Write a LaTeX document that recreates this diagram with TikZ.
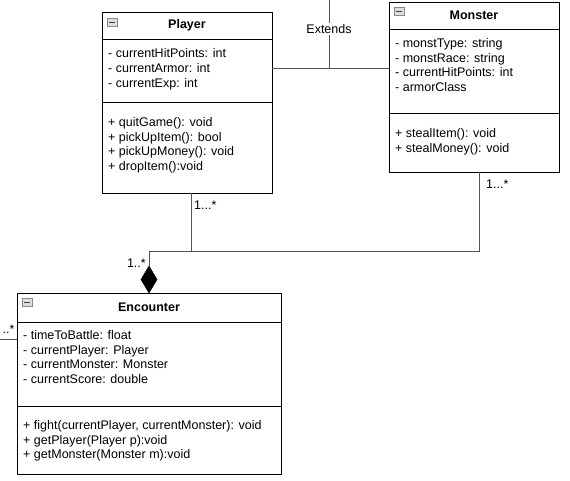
\documentclass[tikz,border=0pt]{standalone}
\usepackage{fontspec}
\setmainfont{Liberation Sans}
\usetikzlibrary{shapes.geometric}
\definecolor{conncol}{HTML}{555555}
\definecolor{icoline}{HTML}{888888}
\definecolor{icofill}{HTML}{DDDDDD}
\begin{document}
\begin{tikzpicture}[x=1pt,y=-1pt,
  box/.style={draw=black, line width=1pt, fill=white, anchor=north west, inner sep=0pt, outer sep=0pt},
  title/.style={font=\fontsize{12.5}{15}\selectfont\bfseries, inner sep=0pt},
  txt/.style={font=\fontsize{12.5}{15}\selectfont, inner sep=0pt, anchor=base west},
  lbl/.style={font=\fontsize{12.5}{15}\selectfont, inner sep=0pt},
  icon/.style={draw=icoline, fill=icofill, line width=0.8pt, minimum width=10, minimum height=8, inner sep=0pt, anchor=north west,
    path picture={\draw[black!75, line width=1pt] ([xshift=2pt]path picture bounding box.west) -- ([xshift=-2pt]path picture bounding box.east);}},
  conn/.style={draw=conncol, line width=1pt}]
\useasboundingbox (0,0) rectangle (570,480);
\fill[white] (0,0) rectangle (570,480);

% ---------- Player ----------
\node[box, minimum width=170, minimum height=27] (pH) at (102,12) {};
\node[box, minimum width=170, minimum height=63] (pA) at (pH.south west) {};
\node[box, minimum width=170, minimum height=91] (pM) at (pA.south west) {};
\node[title] (pT) at (pH.center) {Player};
\node[icon] (pI) at ([shift={(5,6)}]pH.north west) {};
\foreach \t [count=\i from 0] in {- currentHitPoints: int, - currentArmor: int, - currentExp: int}
  \node[txt] (pa\i) at (108,57.5+\i*15) {\t};
\foreach \t [count=\i from 0] in {+ quitGame(): void, + pickUpItem(): bool, + pickUpMoney(): void, + dropItem():void}
  \node[txt] (pm\i) at (108,126.5+\i*14.7) {\t};

% ---------- Monster ----------
\node[box, minimum width=170, minimum height=27] (mH) at (389,2) {};
\node[box, minimum width=170, minimum height=84] (mA) at (mH.south west) {};
\node[box, minimum width=170, minimum height=59] (mM) at (mA.south west) {};
\node[title] (mT) at (mH.center) {Monster};
\node[icon] (mI) at ([shift={(5,5)}]mH.north west) {};
\foreach \t [count=\i from 0] in {- monstType: string, - monstRace: string, - currentHitPoints: int, - armorClass}
  \node[txt] (ma\i) at (395,47.5+\i*14.7) {\t};
\foreach \t [count=\i from 0] in {+ stealItem(): void, + stealMoney(): void}
  \node[txt] (mm\i) at (395,137.5+\i*14.7) {\t};

% ---------- Encounter ----------
\node[box, minimum width=264, minimum height=29] (eH) at (17,293) {};
\node[box, minimum width=264, minimum height=84] (eA) at (eH.south west) {};
\node[box, minimum width=264, minimum height=68] (eM) at (eA.south west) {};
\node[title] (eT) at (eH.center) {Encounter};
\node[icon] (eI) at ([shift={(5,5)}]eH.north west) {};
\foreach \t [count=\i from 0] in {- timeToBattle: float, - currentPlayer: Player, - currentMonster: Monster, - currentScore: double}
  \node[txt] (ea\i) at (23,339.5+\i*14.7) {\t};
\foreach \t [count=\i from 0] in {{+ fight(currentPlayer, currentMonster): void}, + getPlayer(Player p):void, + getMonster(Monster m):void}
  \node[txt] (em\i) at (23,429.5+\i*14.7) {\t};

% ---------- Extends ----------
\coordinate (extTop) at (329,0);
\coordinate (extJ) at (329,68);
\draw[conn] (extTop) -- (extJ);
\draw[conn] (extJ -| pA.east) -- (extJ -| mA.west);
\node[lbl, fill=white, inner sep=1pt] (extL) at (329,29) {Extends};

% ---------- Aggregation ----------
\node[diamond, fill=black, draw=black, line width=0.5pt, minimum width=16, minimum height=27, inner sep=0pt, outer sep=0pt] (dia) at (149,279.5) {};
\coordinate (pX) at (191,251);
\coordinate (mX) at (479,251);
\draw[conn] (pX |- pM.south) -- (pX);
\draw[conn] (mX |- mM.south) -- (mX) -- (dia.north |- mX) -- (dia.north);

\node[lbl, anchor=west] (lp) at (194,205) {1...*};
\node[lbl, anchor=west] (lm) at (486,184) {1...*};
\node[lbl, anchor=east] (ld) at (146,263) {1..*};

% ---------- left stub ----------
\coordinate (lft) at (0,339);
\draw[conn] (lft) -- (lft -| eA.west);
\node[lbl, anchor=east] (ll) at (14.6,329) {..*};
\end{tikzpicture}
\end{document}
